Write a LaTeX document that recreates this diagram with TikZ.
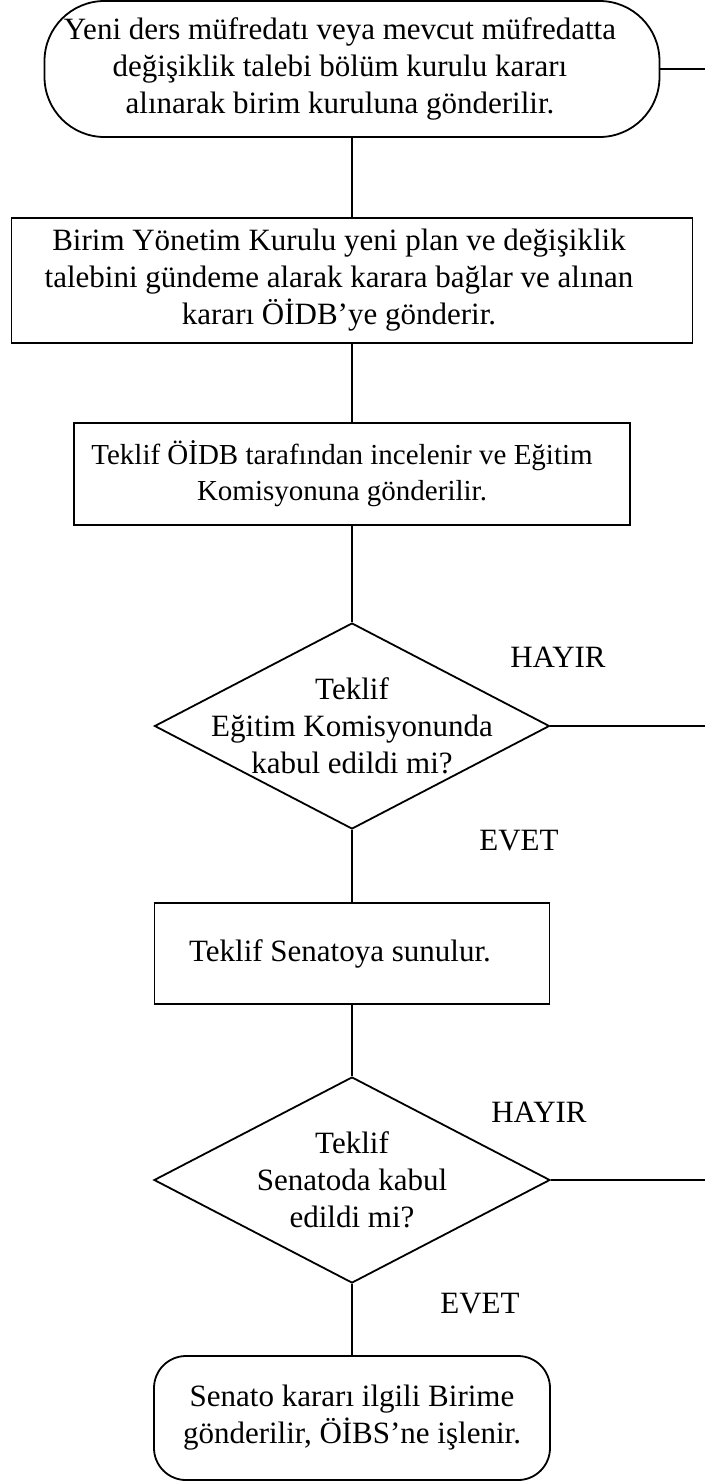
\documentclass[tikz,border=0pt]{standalone}
\usepackage{fontspec}
\setmainfont{Liberation Serif}
\usetikzlibrary{shapes.geometric}
\newcommand\tsp[1]{\makebox[#1]{}}
\begin{document}
\begin{tikzpicture}[x=1pt,y=-1pt,
  txtfont/.style={font=\fontsize{31}{37}\selectfont},
  smallfont/.style={font=\fontsize{29}{36}\selectfont},
  proc/.style={draw,line width=1.8pt,rectangle,inner sep=0pt,align=center,txtfont},
  term/.style={proc,rounded corners=#1},
  dia/.style={draw,line width=1.8pt,diamond,inner sep=0pt},
  dtext/.style={txtfont,align=center,inner sep=0pt},
  lbl/.style={txtfont,inner sep=0pt,anchor=base},
  conn/.style={line width=1.8pt}]
\useasboundingbox (0,0) rectangle (705,1481);

\node[term=60pt, minimum width=615pt, minimum height=136pt] (b1) at (352,69)
  {Yeni ders müfredatı veya mevcut müfredatta\tsp{24pt}\\
   değişiklik talebi bölüm kurulu kararı\tsp{24pt}\\
   alınarak birim kuruluna gönderilir.\tsp{24pt}};

\node[proc, minimum width=681pt, minimum height=125pt] (b2) at (352,280.5)
  {Birim Yönetim Kurulu yeni plan ve değişiklik\tsp{26pt}\\
   talebini gündeme alarak karara bağlar ve alınan\tsp{26pt}\\
   kararı ÖİDB’ye gönderir.\tsp{26pt}};

\node[proc, smallfont, minimum width=556pt, minimum height=102pt] (b3) at (352,474)
  {Teklif ÖİDB tarafından incelenir ve Eğitim\tsp{20pt}\\
   Komisyonuna gönderilir.\tsp{20pt}};

\node[dia, minimum width=395pt, minimum height=206pt] (d1) at (352,726) {};
\node[dtext] (d1t) at (d1.center) {Teklif\\Eğitim Komisyonunda\\kabul edildi mi?};

\node[proc, minimum width=395pt, minimum height=101pt] (b4) at (352,953.5)
  {Teklif Senatoya sunulur.\tsp{24pt}};

\node[dia, minimum width=396pt, minimum height=206pt] (d2) at (352,1180) {};
\node[dtext] (d2t) at (d2.center) {Teklif\\Senatoda kabul\\edildi mi?};

\node[term=32pt, minimum width=396pt, minimum height=124pt] (b5) at (352,1418)
  {Senato kararı ilgili Birime\\gönderilir, ÖİBS’ne işlenir.};

\coordinate (r1) at (705,69);
\coordinate (r2) at (705,726);
\coordinate (r3) at (705,1180);

\draw[conn] (b1.south) -- (b2.north);
\draw[conn] (b2.south) -- (b3.north);
\draw[conn] (b3.south) -- (d1.north);
\draw[conn] (d1.south) -- (b4.north);
\draw[conn] (b4.south) -- (d2.north);
\draw[conn] (d2.south) -- (b5.north);
\draw[conn] (b1.east) -- (r1);
\draw[conn] (d1.east) -- (r2);
\draw[conn] (d2.east) -- (r3);

\node[lbl] (h1) at (558,667) {HAYIR};
\node[lbl] (e1) at (519,850) {EVET};
\node[lbl] (h2) at (539,1122) {HAYIR};
\node[lbl] (e2) at (480,1313) {EVET};
\end{tikzpicture}
\end{document}
